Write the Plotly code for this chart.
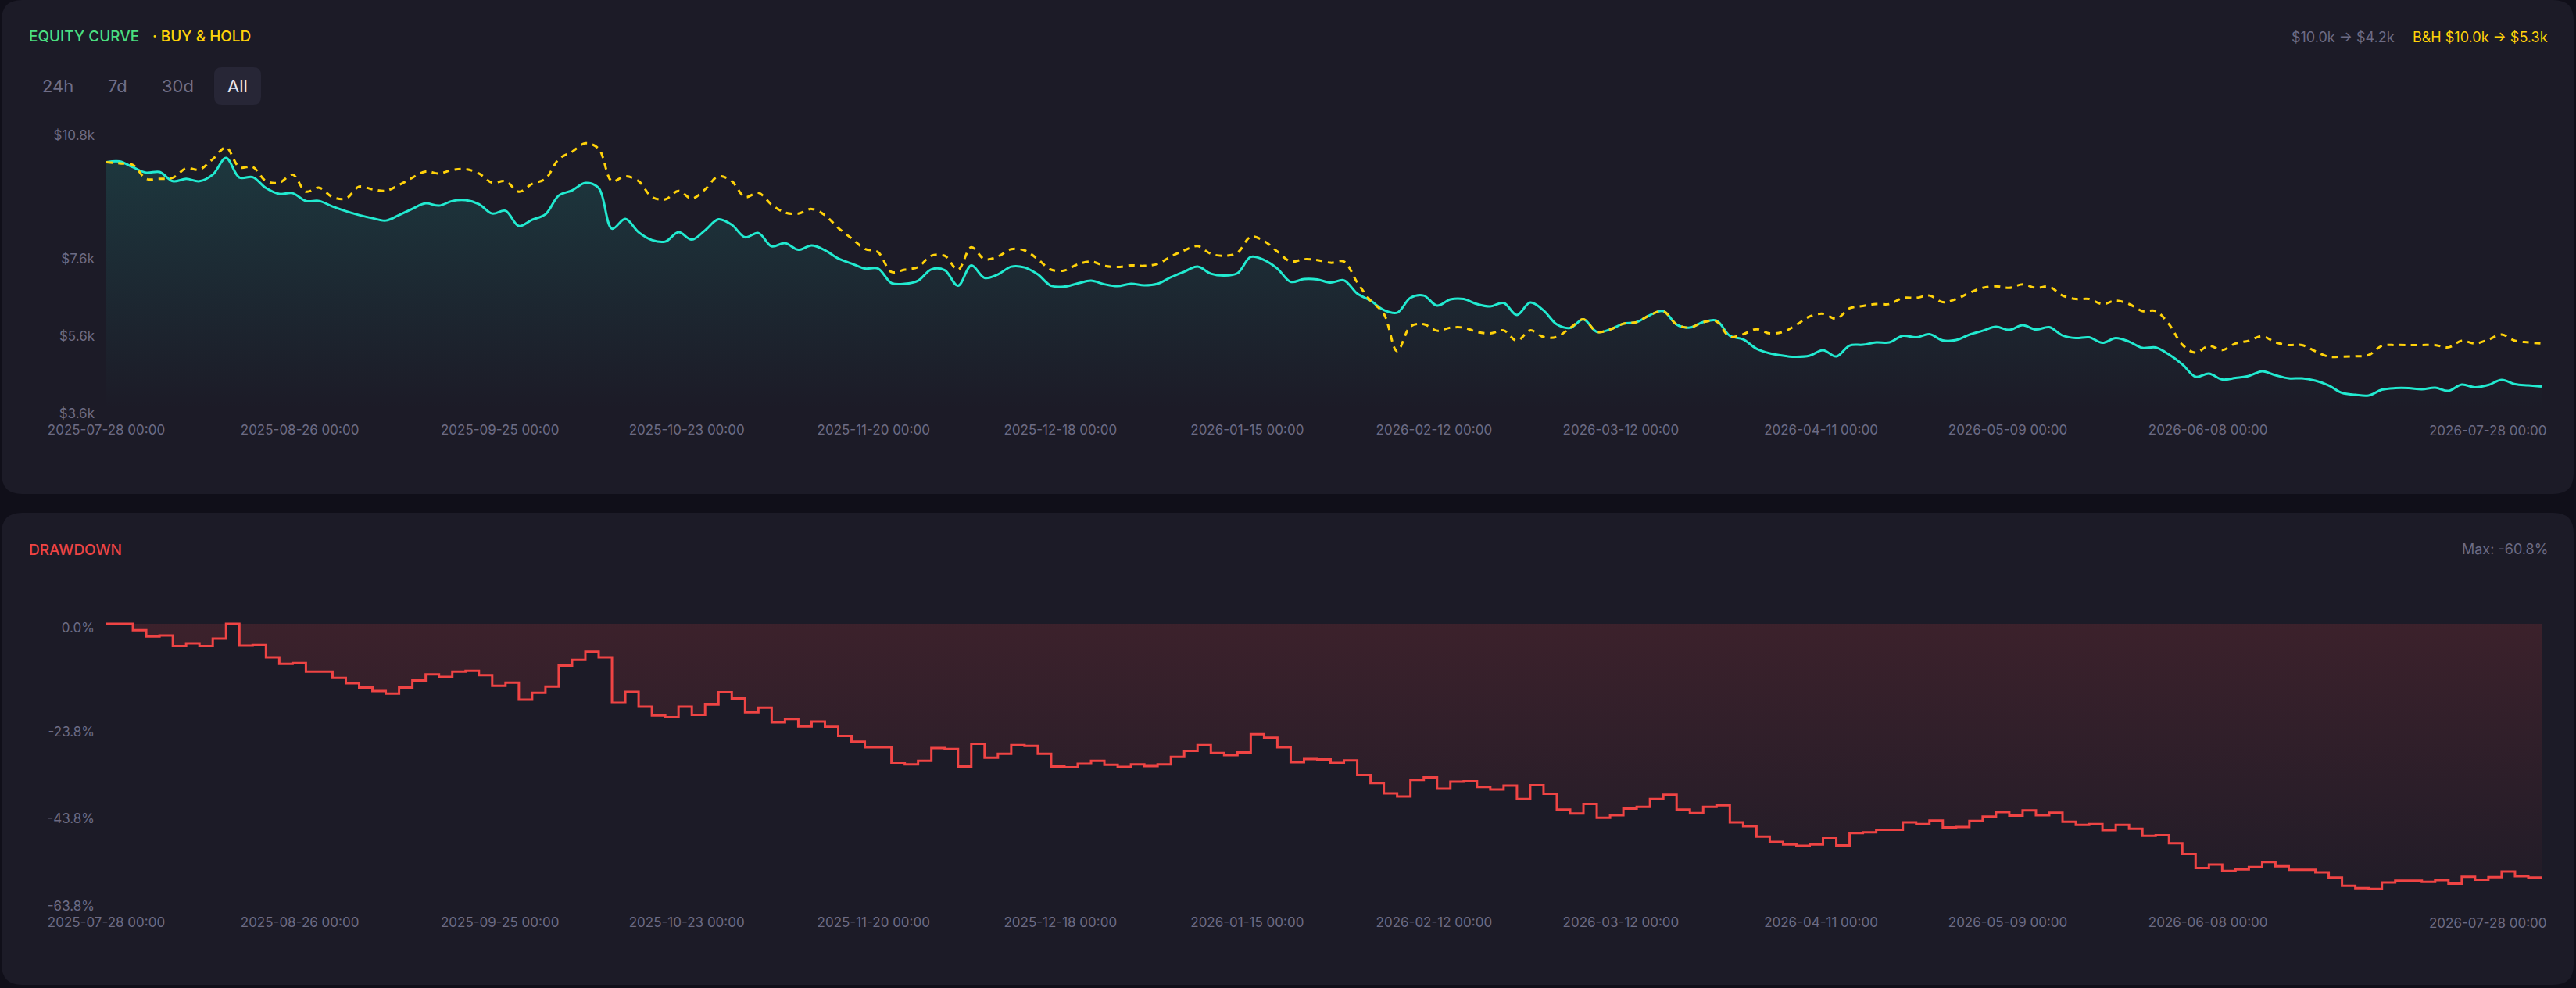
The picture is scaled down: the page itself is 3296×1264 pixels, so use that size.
import pandas as pd
import plotly.graph_objects as go

# ---------------- data ----------------
start_date = "2025-07-28"
end_date = "2026-07-28"

equity = [
    10000, 10020, 9870, 9729, 9749, 9509, 9569, 9509, 9679, 10110,
    9604, 9615, 9332, 9180, 9200, 8998, 8998, 8856, 8735, 8634,
    8553, 8492, 8634, 8796, 8937, 8877, 8998, 9018, 8917, 8674,
    8745, 8351, 8513, 8654, 9139, 9271, 9463, 9332, 8280, 8533,
    8189, 7987, 7946, 8189, 7997, 8240, 8523, 8381, 8058, 8169,
    7825, 7906, 7734, 7845, 7724, 7512, 7380, 7249, 7249, 6875,
    6855, 6935, 7229, 7208, 6804, 7330, 7006, 7097, 7299, 7279,
    7097, 6804, 6784, 6865, 6935, 6844, 6794, 6855, 6814, 6855,
    7026, 7168, 7299, 7117, 7067, 7128, 7552, 7471, 7249, 6905,
    6976, 6966, 6885, 6946, 6602, 6420, 6177, 6106, 6491, 6551,
    6288, 6450, 6460, 6329, 6268, 6359, 6046, 6369, 6167, 5803,
    5712, 5935, 5611, 5672, 5823, 5864, 6046, 6147, 5803, 5722,
    5864, 5904, 5510, 5419, 5176, 5055, 4994, 4964, 4994, 5136,
    4974, 5257, 5277, 5338, 5338, 5510, 5469, 5550, 5389, 5399,
    5540, 5641, 5743, 5662, 5783, 5672, 5732, 5520, 5449, 5469,
    5328, 5449, 5358, 5197, 5207, 5025, 4772, 4448, 4529, 4378,
    4418, 4469, 4590, 4489, 4408, 4408, 4347, 4226, 4034, 3983,
    3963, 4115, 4155, 4155, 4125, 4165, 4084, 4246, 4175, 4236,
    4368, 4256, 4226, 4196,
]

buy_hold = [
    10000, 9970, 9930, 9570, 9570, 9600, 9840, 9810, 10080, 10380,
    9870, 9880, 9510, 9470, 9680, 9240, 9340, 9100, 9060, 9370,
    9300, 9260, 9410, 9600, 9760, 9710, 9800, 9820, 9710, 9470,
    9510, 9240, 9440, 9570, 10080, 10270, 10490, 10350, 9510, 9640,
    9510, 9100, 9040, 9260, 9060, 9300, 9640, 9510, 9100, 9210,
    8900, 8700, 8670, 8790, 8630, 8300, 8030, 7760, 7670, 7160,
    7220, 7290, 7580, 7580, 7220, 7800, 7490, 7560, 7750, 7720,
    7490, 7220, 7200, 7360, 7430, 7320, 7290, 7330, 7320, 7370,
    7560, 7720, 7830, 7630, 7580, 7660, 8070, 7960, 7690, 7430,
    7490, 7470, 7400, 7430, 6890, 6420, 6080, 5110, 5750, 5810,
    5640, 5720, 5720, 5610, 5570, 5650, 5380, 5650, 5480, 5480,
    5712, 5935, 5611, 5672, 5823, 5864, 6046, 6147, 5803, 5722,
    5864, 5880, 5480, 5550, 5680, 5570, 5610, 5790, 6010, 6080,
    5950, 6220, 6280, 6330, 6330, 6490, 6490, 6550, 6380, 6460,
    6620, 6750, 6790, 6750, 6840, 6750, 6780, 6550, 6460, 6460,
    6330, 6420, 6330, 6150, 6150, 5810, 5280, 5070, 5250, 5140,
    5310, 5380, 5500, 5340, 5270, 5270, 5110, 4970, 4970, 4980,
    5010, 5250, 5270, 5270, 5270, 5270, 5210, 5380, 5310, 5410,
    5540, 5380, 5340, 5310,
]

x_tick_dates = ["2025-07-28", "2025-08-26", "2025-09-25", "2025-10-23",
                "2025-11-20", "2025-12-18", "2026-01-15", "2026-02-12",
                "2026-03-12", "2026-04-11", "2026-05-09", "2026-06-08",
                "2026-07-28"]
equity_ticks = [10800, 7600, 5600, 3600]
drawdown_ticks = [0.0, -23.8, -43.8, -63.8]
range_buttons = ["24h", "7d", "30d", "All"]

# ---------------- derived ----------------
dates = pd.date_range(start_date, end_date, periods=len(equity))
eq_s = pd.Series(equity, dtype=float)
drawdown = ((eq_s / eq_s.cummax() - 1.0) * 100.0).tolist()
max_dd = min(drawdown)

# ---------------- styling ----------------
W, H = 3296, 1264
OUTER = "#100f19"
CARD = "#1c1b27"
GREY = "#6c6b84"
CYAN = "#22ead0"
GOLD = "#ffd20a"
GREEN = "#4ade80"
RED = "#ef4444"
FONT = "Inter"


def px(x):
    return x / W


def py(y):
    return 1 - y / H


def rrect(x0, y0, x1, y1, r):
    pts = [
        ("M", [(x0 + r, y0)]), ("L", [(x1 - r, y0)]), ("Q", [(x1, y0), (x1, y0 + r)]),
        ("L", [(x1, y1 - r)]), ("Q", [(x1, y1), (x1 - r, y1)]), ("L", [(x0 + r, y1)]),
        ("Q", [(x0, y1), (x0, y1 - r)]), ("L", [(x0, y0 + r)]), ("Q", [(x0, y0), (x0 + r, y0)]),
    ]
    s = ""
    for cmd, ps in pts:
        s += cmd + " " + " ".join(f"{px(a):.6f},{py(b):.6f}" for a, b in ps) + " "
    return s + "Z"


PLOT_L, PLOT_R = 136, 3252
TOP_T, TOP_B = 168, 524
DD_T, DD_B = 798, 1154
dd_px_per_pct = (DD_B - DD_T) / 63.8
dd_top_pad = 2 / dd_px_per_pct

fig = go.Figure()

fig.add_trace(go.Scatter(
    x=dates, y=equity, mode="lines", xaxis="x", yaxis="y",
    line=dict(color=CYAN, width=3, shape="spline", smoothing=1.0),
    fill="tozeroy",
    fillgradient=dict(type="vertical", start=3600, stop=10800,
                      colorscale=[[0, "rgba(34,234,208,0.0)"], [1, "rgba(34,234,208,0.15)"]]),
    showlegend=False, hoverinfo="skip",
))
fig.add_trace(go.Scatter(
    x=dates, y=buy_hold, mode="lines", xaxis="x", yaxis="y",
    line=dict(color=GOLD, width=3, dash="8px,7px", shape="spline", smoothing=1.0),
    showlegend=False, hoverinfo="skip",
))
fig.add_trace(go.Scatter(
    x=dates, y=drawdown, mode="lines", xaxis="x2", yaxis="y2",
    line=dict(color=RED, width=3, shape="hv"),
    fill="tozeroy",
    fillgradient=dict(type="vertical", start=-63.8, stop=0,
                      colorscale=[[0, "rgba(239,68,68,0.02)"], [1, "rgba(239,68,68,0.15)"]]),
    showlegend=False, hoverinfo="skip",
))

tick_font = dict(family=FONT, size=17, color=GREY)
xaxis_common = dict(
    type="date", range=[start_date, end_date],
    tickvals=x_tick_dates[:-1],
    ticktext=[d + " 00:00" for d in x_tick_dates[:-1]],
    showgrid=False, zeroline=False, showline=False, ticks="",
    tickfont=tick_font, ticklabelstandoff=14, automargin=False,
    domain=[px(PLOT_L), px(PLOT_R)], fixedrange=True,
)

shapes = [
    dict(type="path", path=rrect(2, 0, 3293, 632, 26), xref="paper", yref="paper",
         fillcolor=CARD, line=dict(width=0), layer="below"),
    dict(type="path", path=rrect(2, 656, 3293, 1260, 26), xref="paper", yref="paper",
         fillcolor=CARD, line=dict(width=0), layer="below"),
    dict(type="path", path=rrect(274, 86, 334, 134, 10), xref="paper", yref="paper",
         fillcolor="#272636", line=dict(width=0), layer="below"),
]

annotations = []


def ann(text, x, y, color, size, xanchor="left", weight=None):
    f = dict(family=FONT, size=size, color=color)
    if weight:
        f["weight"] = weight
    annotations.append(dict(text=text, x=px(x), y=py(y), xref="paper", yref="paper",
                            xanchor=xanchor, yanchor="middle", showarrow=False, font=f))


ann("EQUITY CURVE", 35, 47, GREEN, 19, weight=500)
ann("· BUY & HOLD", 193, 47, GOLD, 19, weight=500)
ann(f"B&H ${buy_hold[0]/1000:.1f}k → ${buy_hold[-1]/1000:.1f}k", 3262, 48, GOLD, 18, "right")
ann(f"${equity[0]/1000:.1f}k → ${equity[-1]/1000:.1f}k", 3066, 48, GREY, 18, "right")
btn_x = [74, 150, 227, 304]
for name, bx in zip(range_buttons, btn_x):
    ann(name, bx, 110, "#e8e8f0" if name == "All" else "#6f6e87", 22, "center")
ann("DRAWDOWN", 35, 703, RED, 19, weight=500)
ann(f"Max: {max_dd:.1f}%", 3262, 702, GREY, 18, "right")
last_lbl = x_tick_dates[-1] + " 00:00"
ann(last_lbl, 3261, 551, GREY, 17, "right")
ann(last_lbl, 3261, 1181, GREY, 17, "right")

fig.update_layout(
    template="none",
    width=W, height=H, autosize=False,
    margin=dict(l=0, r=0, t=0, b=0, pad=0, autoexpand=False),
    paper_bgcolor=OUTER, plot_bgcolor="rgba(0,0,0,0)",
    showlegend=False, hovermode=False,
    xaxis=dict(anchor="y", **xaxis_common),
    xaxis2=dict(anchor="y2", **xaxis_common),
    yaxis=dict(
        domain=[py(TOP_B), py(TOP_T)], range=[3600, 10800], anchor="x",
        tickvals=equity_ticks, ticktext=[f"${v/1000:.1f}k" for v in equity_ticks],
        showgrid=False, zeroline=False, showline=False, ticks="",
        tickfont=tick_font, ticklabelstandoff=14, ticklabelshift=5,
        automargin=False, fixedrange=True,
    ),
    yaxis2=dict(
        domain=[py(DD_B), py(DD_T - 2)], range=[-63.8, dd_top_pad], anchor="x2",
        tickvals=drawdown_ticks, ticktext=[f"{v:.1f}%" for v in drawdown_ticks],
        showgrid=False, zeroline=False, showline=False, ticks="",
        tickfont=tick_font, ticklabelstandoff=14, ticklabelshift=5,
        automargin=False, fixedrange=True,
    ),
    shapes=shapes,
    annotations=annotations,
)

fig.write_html(
    "out.html",
    config={"displayModeBar": False},
    post_script=("document.body.style.margin='0';"
                 "document.body.style.overflow='hidden';"
                 f"document.body.style.background='{OUTER}';"),
)
